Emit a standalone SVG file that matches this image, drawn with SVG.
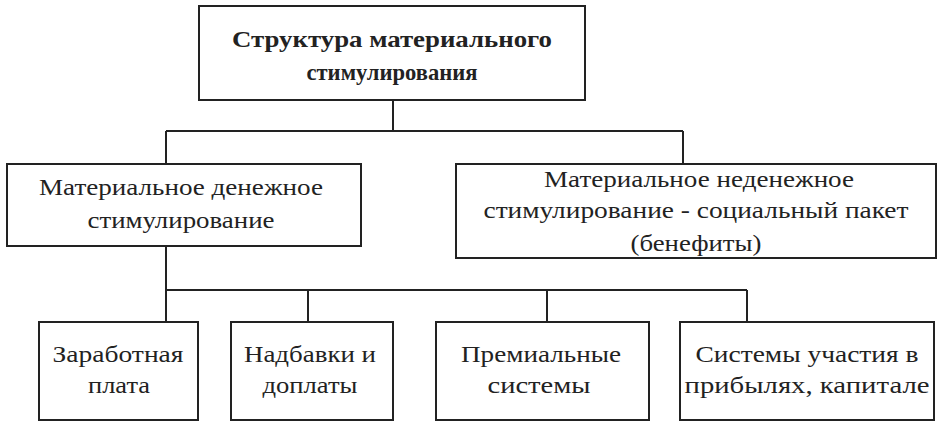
<svg xmlns="http://www.w3.org/2000/svg" width="942" height="424" viewBox="0 0 942 424">
<style>
rect{fill:#fff;stroke:#222;stroke-width:2}
text{font-family:"Liberation Serif","Times New Roman",serif;font-size:23px;fill:#222;text-anchor:middle}
.b{font-weight:bold}
#connectors path{fill:none;stroke:#222;stroke-width:2}
</style>
<rect x="0" y="0" width="942" height="424" style="fill:#fff;stroke:none"/>
<g id="connectors">
<path d="M393 100V131M166 131H683M166 131V164M683 131V164"/>
<path d="M166 246V290M166 290H747M166 290V322M308 290V322M547 290V322M747 290V322"/>
</g>
<g id="root"><rect x="199" y="6" width="386" height="94"/>
<text class="b" x="392" y="47" textLength="320" lengthAdjust="spacingAndGlyphs">Структура материального</text>
<text class="b" x="392" y="80" textLength="171" lengthAdjust="spacingAndGlyphs">стимулирования</text></g>
<g id="money"><rect x="7" y="164" width="354" height="82"/>
<text x="181" y="195" textLength="284" lengthAdjust="spacingAndGlyphs">Материальное денежное</text>
<text x="181" y="228" textLength="187" lengthAdjust="spacingAndGlyphs">стимулирование</text></g>
<g id="nonmoney"><rect x="456" y="164" width="480" height="94"/>
<text x="699" y="187" textLength="310" lengthAdjust="spacingAndGlyphs">Материальное неденежное</text>
<text x="696" y="218" textLength="425" lengthAdjust="spacingAndGlyphs">стимулирование - социальный пакет</text>
<text x="696" y="251" textLength="131" lengthAdjust="spacingAndGlyphs">(бенефиты)</text></g>
<g id="wage"><rect x="39" y="322" width="159" height="98"/>
<text x="118" y="362" textLength="131" lengthAdjust="spacingAndGlyphs">Заработная</text>
<text x="119" y="393" textLength="62" lengthAdjust="spacingAndGlyphs">плата</text></g>
<g id="bonus"><rect x="231" y="322" width="162" height="98"/>
<text x="310" y="362" textLength="132" lengthAdjust="spacingAndGlyphs">Надбавки и</text>
<text x="310" y="393" textLength="95" lengthAdjust="spacingAndGlyphs">доплаты</text></g>
<g id="premium"><rect x="436" y="322" width="213" height="98"/>
<text x="541" y="362" textLength="160" lengthAdjust="spacingAndGlyphs">Премиальные</text>
<text x="539" y="393" textLength="103" lengthAdjust="spacingAndGlyphs">системы</text></g>
<g id="profit"><rect x="680" y="322" width="254" height="98"/>
<text x="807" y="362" textLength="223" lengthAdjust="spacingAndGlyphs">Системы участия в</text>
<text x="807" y="393" textLength="245" lengthAdjust="spacingAndGlyphs">прибылях, капитале</text></g>
</svg>
